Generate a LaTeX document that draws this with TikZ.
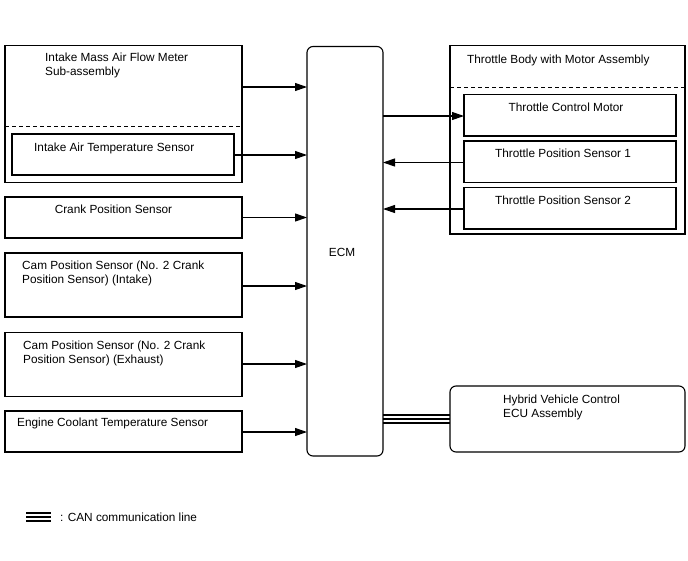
\documentclass[tikz,border=0pt]{standalone}
\usepackage{fontspec}
\setmainfont{Liberation Sans}
\usetikzlibrary{arrows.meta}
\begin{document}
\begin{tikzpicture}[x=1pt,y=-1pt,
  box/.style={draw,line width=1.1pt,anchor=north west,inner sep=0pt,outer sep=0pt},
  rbox/.style={box,rounded corners=6pt},
  lbl/.style={anchor=base west,inner sep=0pt,font=\fontsize{11.8}{14}\selectfont},
  clbl/.style={anchor=base,inner sep=0pt,font=\fontsize{11.8}{14}\selectfont},
  arr/.style={line width=1.1pt,-{Triangle[length=12pt,width=8pt]}},
  dsh/.style={line width=1pt,dash pattern=on 4pt off 3pt},
  can/.style={line width=1.3pt}]
\useasboundingbox (0,0) rectangle (688,560);
% left boxes
\node[box,minimum width=237pt,minimum height=137pt] (maf) at (5,45.5) {};
\draw[dsh] (maf.west |- 0,126) coordinate (d1) -- (maf.east |- 0,126) coordinate (d2);
\node[box,minimum width=222pt,minimum height=41pt] (iat) at (12,134) {};
\node[box,minimum width=237pt,minimum height=41pt] (ckp) at (5,197) {};
\node[box,minimum width=237pt,minimum height=64pt] (cmi) at (5,253) {};
\node[box,minimum width=237pt,minimum height=64pt] (cme) at (5,332.5) {};
\node[box,minimum width=237pt,minimum height=41pt] (ect) at (5,411) {};
% ECM
\node[rbox,minimum width=76pt,minimum height=409.5pt] (ecm) at (307,46.5) {};
% throttle body
\node[box,minimum width=235pt,minimum height=188.5pt] (tb) at (450,45.5) {};
\draw[dsh] (tb.west |- 0,87) coordinate (d3) -- (tb.east |- 0,87) coordinate (d4);
\node[box,minimum width=212pt,minimum height=41.5pt] (tcm) at (464,94.5) {};
\node[box,minimum width=212pt,minimum height=41.5pt] (tps1) at (464,141) {};
\node[box,minimum width=212pt,minimum height=41.5pt] (tps2) at (464,187.5) {};
% HV ECU
\node[rbox,minimum width=235pt,minimum height=66pt] (hv) at (450,386) {};
% texts
\node[lbl] (t1) at (45,61.5) {Intake Mass Air Flow Meter};
\node[lbl] (t2) at (45,75.5) {Sub-assembly};
\node[lbl] (t3) at (34,151.5) {Intake Air Temperature Sensor};
\node[clbl] (t4) at (113.5,213.5) {Crank Position Sensor};
\node[lbl] (t5) at (22,269) {Cam Position Sensor (No. 2 Crank};
\node[lbl] (t6) at (22,283.5) {Position Sensor) (Intake)};
\node[lbl] (t7) at (23,349) {Cam Position Sensor (No. 2 Crank};
\node[lbl] (t8) at (23,363) {Position Sensor) (Exhaust)};
\node[lbl] (t9) at (17,426.5) {Engine Coolant Temperature Sensor};
\node[clbl] (t10) at (342,256) {ECM};
\node[lbl] (t11) at (467,63.5) {Throttle Body with Motor Assembly};
\node[clbl] (t12) at (566,111.5) {Throttle Control Motor};
\node[clbl] (t13) at (563,157.5) {Throttle Position Sensor 1};
\node[clbl] (t14) at (563,204.5) {Throttle Position Sensor 2};
\node[lbl] (t15) at (503,403) {Hybrid Vehicle Control};
\node[lbl] (t16) at (503,417) {ECU Assembly};
% arrows
\draw[arr] (maf.east |- 0,87) -- (ecm.west |- 0,87);
\draw[arr] (iat.east |- 0,155) -- (ecm.west |- 0,155);
\draw[arr] (ckp.east |- 0,217.5) -- (ecm.west |- 0,217.5);
\draw[arr] (cmi.east |- 0,286) -- (ecm.west |- 0,286);
\draw[arr] (cme.east |- 0,364) -- (ecm.west |- 0,364);
\draw[arr] (ect.east |- 0,432) -- (ecm.west |- 0,432);
\draw[arr] (ecm.east |- 0,116) -- (tcm.west |- 0,116);
\draw[arr] (tps1.west |- 0,162.5) -- (ecm.east |- 0,162.5);
\draw[arr] (tps2.west |- 0,209) -- (ecm.east |- 0,209);
% CAN
\draw[can] (ecm.east |- 0,415) -- (hv.west |- 0,415);
\draw[can] (ecm.east |- 0,419) -- (hv.west |- 0,419);
\draw[can] (ecm.east |- 0,423) -- (hv.west |- 0,423);
% legend
\coordinate (la) at (26,513);
\coordinate (lb) at (51,513);
\draw[can] (la) -- (lb);
\draw[can] ([yshift=-4pt]la) -- ([yshift=-4pt]lb);
\draw[can] ([yshift=-8pt]la) -- ([yshift=-8pt]lb);
\node[lbl] (t17) at (60,521) {: CAN communication line};
\end{tikzpicture}
\end{document}
